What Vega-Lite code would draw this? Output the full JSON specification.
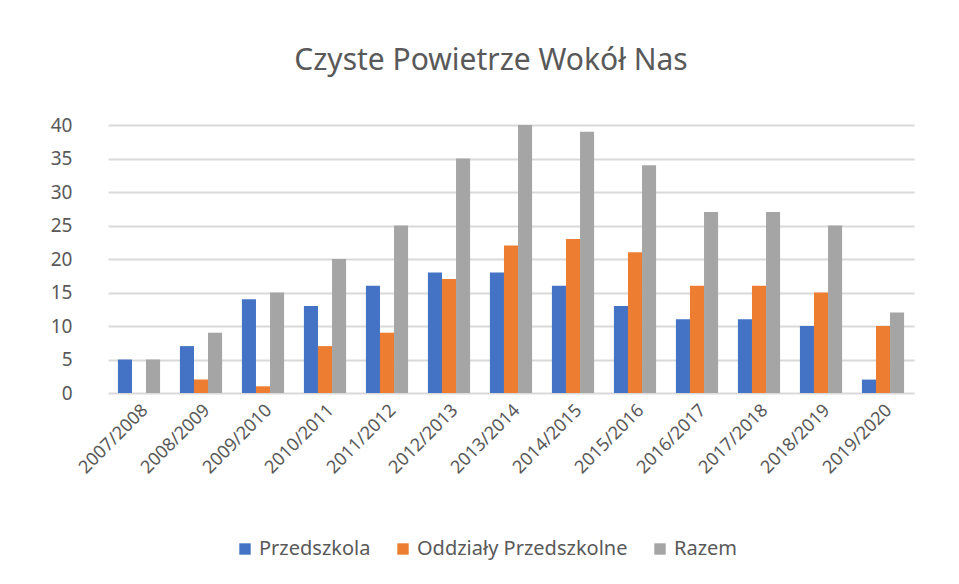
{
  "$schema": "https://vega.github.io/schema/vega-lite/v6.json",
  "width": 806,
  "height": 268,
  "autosize": "none",
  "padding": {"left": 108, "top": 125, "right": 45, "bottom": 191},
  "background": "white",
  "title": {
    "text": "Czyste Powietrze Wokół Nas",
    "fontSize": 30,
    "font": "Noto Sans",
    "fontWeight": "normal",
    "color": "#595959",
    "offset": 40,
    "dx": -20
  },
  "data": {
    "values": [
      {"rok": "2007/2008", "seria": "Przedszkola", "wartosc": 5},
      {"rok": "2007/2008", "seria": "Oddziały Przedszkolne", "wartosc": 0},
      {"rok": "2007/2008", "seria": "Razem", "wartosc": 5},
      {"rok": "2008/2009", "seria": "Przedszkola", "wartosc": 7},
      {"rok": "2008/2009", "seria": "Oddziały Przedszkolne", "wartosc": 2},
      {"rok": "2008/2009", "seria": "Razem", "wartosc": 9},
      {"rok": "2009/2010", "seria": "Przedszkola", "wartosc": 14},
      {"rok": "2009/2010", "seria": "Oddziały Przedszkolne", "wartosc": 1},
      {"rok": "2009/2010", "seria": "Razem", "wartosc": 15},
      {"rok": "2010/2011", "seria": "Przedszkola", "wartosc": 13},
      {"rok": "2010/2011", "seria": "Oddziały Przedszkolne", "wartosc": 7},
      {"rok": "2010/2011", "seria": "Razem", "wartosc": 20},
      {"rok": "2011/2012", "seria": "Przedszkola", "wartosc": 16},
      {"rok": "2011/2012", "seria": "Oddziały Przedszkolne", "wartosc": 9},
      {"rok": "2011/2012", "seria": "Razem", "wartosc": 25},
      {"rok": "2012/2013", "seria": "Przedszkola", "wartosc": 18},
      {"rok": "2012/2013", "seria": "Oddziały Przedszkolne", "wartosc": 17},
      {"rok": "2012/2013", "seria": "Razem", "wartosc": 35},
      {"rok": "2013/2014", "seria": "Przedszkola", "wartosc": 18},
      {"rok": "2013/2014", "seria": "Oddziały Przedszkolne", "wartosc": 22},
      {"rok": "2013/2014", "seria": "Razem", "wartosc": 40},
      {"rok": "2014/2015", "seria": "Przedszkola", "wartosc": 16},
      {"rok": "2014/2015", "seria": "Oddziały Przedszkolne", "wartosc": 23},
      {"rok": "2014/2015", "seria": "Razem", "wartosc": 39},
      {"rok": "2015/2016", "seria": "Przedszkola", "wartosc": 13},
      {"rok": "2015/2016", "seria": "Oddziały Przedszkolne", "wartosc": 21},
      {"rok": "2015/2016", "seria": "Razem", "wartosc": 34},
      {"rok": "2016/2017", "seria": "Przedszkola", "wartosc": 11},
      {"rok": "2016/2017", "seria": "Oddziały Przedszkolne", "wartosc": 16},
      {"rok": "2016/2017", "seria": "Razem", "wartosc": 27},
      {"rok": "2017/2018", "seria": "Przedszkola", "wartosc": 11},
      {"rok": "2017/2018", "seria": "Oddziały Przedszkolne", "wartosc": 16},
      {"rok": "2017/2018", "seria": "Razem", "wartosc": 27},
      {"rok": "2018/2019", "seria": "Przedszkola", "wartosc": 10},
      {"rok": "2018/2019", "seria": "Oddziały Przedszkolne", "wartosc": 15},
      {"rok": "2018/2019", "seria": "Razem", "wartosc": 25},
      {"rok": "2019/2020", "seria": "Przedszkola", "wartosc": 2},
      {"rok": "2019/2020", "seria": "Oddziały Przedszkolne", "wartosc": 10},
      {"rok": "2019/2020", "seria": "Razem", "wartosc": 12}
    ]
  },
  "mark": {"type": "bar"},
  "encoding": {
    "x": {
      "field": "rok",
      "type": "nominal",
      "sort": null,
      "title": null,
      "scale": {"paddingInner": 0.32, "paddingOuter": 0.16},
      "axis": {
        "labelAngle": -45,
        "labelFontSize": 18,
        "labelFont": "Noto Sans",
        "labelColor": "#595959",
        "labelPadding": 8,
        "ticks": false,
        "domain": false
      }
    },
    "xOffset": {
      "field": "seria",
      "type": "nominal",
      "sort": ["Przedszkola", "Oddziały Przedszkolne", "Razem"],
      "scale": {"paddingInner": 0}
    },
    "y": {
      "field": "wartosc",
      "type": "quantitative",
      "title": null,
      "scale": {"domain": [0, 40]},
      "axis": {
        "values": [0, 5, 10, 15, 20, 25, 30, 35, 40],
        "labelFontSize": 19,
        "labelFont": "Noto Sans",
        "labelColor": "#595959",
        "labelPadding": 36,
        "ticks": false,
        "domain": false,
        "gridColor": "#d9d9d9",
        "gridWidth": 2
      }
    },
    "color": {
      "field": "seria",
      "type": "nominal",
      "sort": ["Przedszkola", "Oddziały Przedszkolne", "Razem"],
      "scale": {
        "domain": ["Przedszkola", "Oddziały Przedszkolne", "Razem"],
        "range": ["#4472C4", "#ED7D31", "#A5A5A5"]
      },
      "legend": {
        "title": null,
        "orient": "none",
        "direction": "horizontal",
        "legendX": 127,
        "legendY": 414,
        "symbolType": "square",
        "symbolSize": 130,
        "labelFontSize": 20,
        "labelFont": "Noto Sans",
        "labelColor": "#595959",
        "labelLimit": 400,
        "columnPadding": 22,
        "labelOffset": 4,
        "symbolOffset": 0
      }
    }
  },
  "config": {
    "view": {"stroke": null}
  }
}
